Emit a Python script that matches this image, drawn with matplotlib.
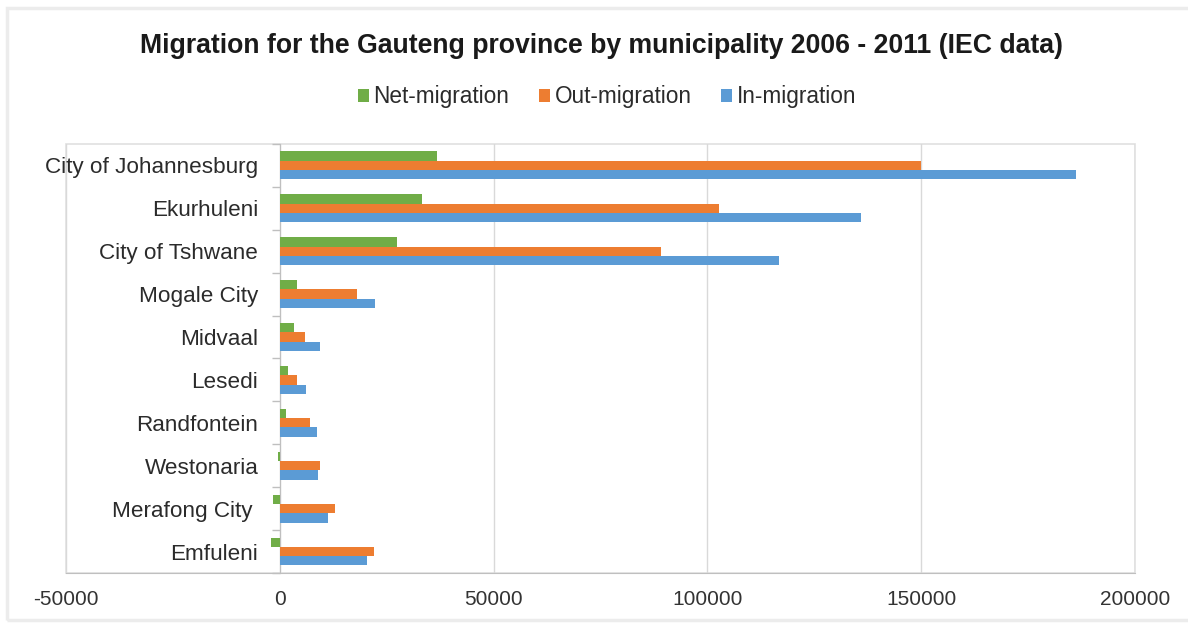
import numpy as np
import matplotlib.pyplot as plt
from matplotlib.patches import Rectangle

plt.rcParams['font.family'] = ['Liberation Sans', 'DejaVu Sans']
plt.rcParams['axes.unicode_minus'] = False

# Migration 2006 - 2011 per municipality (top to bottom as listed)
municipalities = ['City of Johannesburg', 'Ekurhuleni', 'City of Tshwane', 'Mogale City',
                  'Midvaal', 'Lesedi', 'Randfontein', 'Westonaria', 'Merafong City ', 'Emfuleni']
net_migration = [36700, 33200, 27300, 4100, 3300, 2000, 1500, -500, -1700, -2100]
out_migration = [149900, 102800, 89200, 18000, 5800, 4000, 7100, 9500, 12900, 22100]
in_migration = [186300, 136000, 116700, 22200, 9300, 6100, 8600, 9000, 11300, 20300]

series = [('Net-migration', net_migration, '#70AD47'),
          ('Out-migration', out_migration, '#ED7D31'),
          ('In-migration', in_migration, '#5B9BD5')]

fig = plt.figure(figsize=(11.88, 6.23), dpi=100)
ax = fig.add_axes([0.0556, 0.0803, 0.8998, 0.6886])

n = len(municipalities)
y = np.arange(n)
bar_h = 0.217
for i, (name, vals, col) in enumerate(series):
    ax.barh(y + (i - 1) * bar_h, vals, height=bar_h, color=col, label=name, zorder=3)

ax.set_xlim(-50000, 200000)
ax.set_ylim(n - 0.5, -0.5)
ax.set_xticks(np.arange(-50000, 200001, 50000))
ax.tick_params(axis='x', length=0, pad=12, labelsize=15, labelcolor='#333333')
ax.grid(axis='x', color='#d9d9d9', linewidth=1, zorder=0)

# category axis sits on zero, labels at group centres, marks between groups
ax.spines['left'].set_position(('data', 0))
ax.spines['left'].set_color('#bfbfbf')
ax.set_yticks(y)
ax.set_yticklabels(municipalities)
ax.set_yticks(np.arange(-0.5, n, 1), minor=True)
ax.tick_params(axis='y', which='major', length=0, pad=15.5, labelsize=16.2, labelcolor='#2b2b2b')
ax.tick_params(axis='y', which='minor', length=6, width=1, color='#bfbfbf')

for s in ['top', 'right']:
    ax.spines[s].set_visible(False)
ax.spines['bottom'].set_color('#bfbfbf')

# light frame round the plot area
ax.add_patch(Rectangle((0, 0), 1, 1, transform=ax.transAxes, fill=False,
                       edgecolor='#e0e0e0', linewidth=1.2, clip_on=False, zorder=1))

# soft outer border of the chart
fig.patches.append(Rectangle((7 / 1188, 3 / 623), 1.0, 1 - 11 / 623, transform=fig.transFigure,
                             fill=False, edgecolor='#ececec', linewidth=2.5))

fig.text(0.506, 1 - 46 / 623, 'Migration for the Gauteng province by municipality 2006 - 2011 (IEC data)',
         ha='center', va='center', fontsize=19.2, fontweight='bold', color='#1a1a1a')

fig.legend(loc='center', bbox_to_anchor=(0.511, 1 - 97 / 623), ncol=3, frameon=False,
           fontsize=16.3, handlelength=0.5, handleheight=0.5, handletextpad=0.2,
           columnspacing=1.3, labelcolor='#2b2b2b')

fig.savefig('out.png', dpi=100)
